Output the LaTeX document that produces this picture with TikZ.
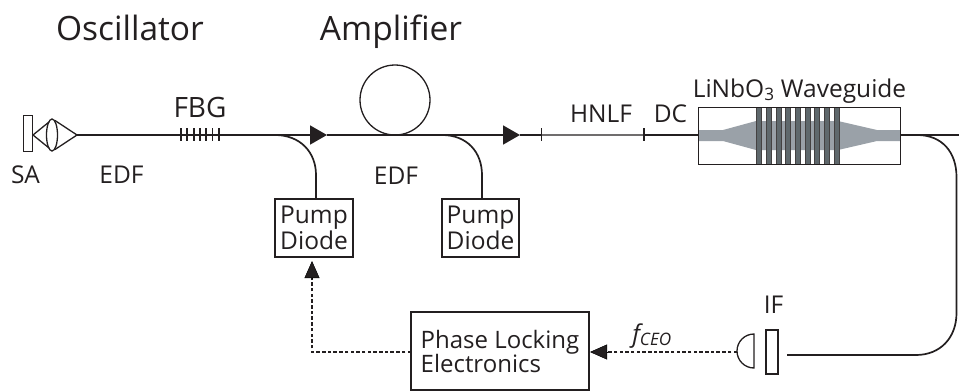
\documentclass[tikz,border=0pt]{standalone}
\usepackage{fontspec}
\setmainfont{Open Sans}
\usetikzlibrary{arrows.meta}
\definecolor{ink}{HTML}{231F20}
\definecolor{wg}{HTML}{9AA1A8}
\definecolor{electrode}{HTML}{5F686C}
\tikzset{
 x=1pt,y=-1pt,
 every node/.style={text=ink,inner sep=0pt,outer sep=0pt},
 lbl/.style={font=\fontsize{24.5}{24}\selectfont,anchor=base},
 biglbl/.style={font=\fontsize{33.5}{33}\selectfont,anchor=base},
 boxed/.style={draw=ink,line width=1.3pt,font=\fontsize{24.5}{24}\selectfont,align=center},
 fiber/.style={draw=ink,line width=1.7pt},
 part/.style={draw=ink,line width=1.3pt},
 thinfiber/.style={draw=ink!65,line width=1.3pt},
 dashline/.style={draw=ink,line width=1.6pt,dash pattern=on 3.5pt off 2.2pt},
 head/.style={-{Triangle[length=17pt,width=19pt,fill=ink]}},
 dashhead/.style={-{Triangle[length=17pt,width=15pt,fill=ink]}},
 elec/.style={fill=electrode,draw=ink!85,line width=0.7pt},
}
\begin{document}
\begin{tikzpicture}
\useasboundingbox (0,0) rectangle (959,391);
% titles
\node[biglbl] (osc) at (130,40) {Oscillator};
\node[biglbl] (amp) at (391,40) {Amplifier};
% saturable absorber and lens
\node[part,minimum width=9.5pt,minimum height=36pt] (sa) at (28,133.5) {};
\coordinate (lenstip) at (77,135);
\draw[part] (33,135) -- (49,122) (33,135) -- (49,148);
\draw[part] (55,120.5) -- (lenstip) -- (55,149.5);
\draw[part] (52,135) ellipse (5.5 and 16);
% fibres
\coordinate (head1) at (327,135);
\coordinate (head2) at (520,135);
\coordinate (spliceA) at (541.5,135);
\coordinate (spliceB) at (644,135);
\node[minimum width=202pt,minimum height=57pt] (wgbox) at (799,135) {};
\draw[fiber,head] (lenstip) -- (head1);
\draw[fiber,head] (head1) -- (head2);
\draw[fiber] (head2) -- (spliceA);
\draw[thinfiber] (spliceA) -- (spliceB);
\draw[fiber] (spliceB) -- (wgbox.west);
\coordinate (rightend) at (959,135);
\draw[fiber] (wgbox.east) -- (rightend);
% FBG
\foreach \i in {0,...,6}{
 \draw[draw=ink,line width=1.8pt] (181+6.3*\i,128) -- (181+6.3*\i,141);
}
% splice ticks
\draw[draw=ink,line width=1.1pt] (spliceA)+(0,-7) -- +(0,6);
\draw[draw=ink,line width=1.1pt] (spliceB)+(0,-7) -- +(0,6);
% loop
\node[part,circle,minimum size=70pt] (loop) at (395,100) {};
% pump diodes
\node[boxed,minimum width=78pt,minimum height=58pt] (pump1) at (314,228) {Pump\\Diode};
\node[boxed,minimum width=77pt,minimum height=58pt] (pump2) at (480.5,228) {Pump\\Diode};
\coordinate (tap1) at (275,135);
\coordinate (tap2) at (442,135);
\draw[fiber] (tap1) .. controls (300,135) and (316,152) .. (316,175) -- (316,199);
\draw[fiber] (tap2) .. controls (467,135) and (482,152) .. (482,175) -- (482,199);
% waveguide
\fill[wg] (698,130) -- (723,130) -- (756,121) -- (838,121) -- (877,130) -- (900,130) -- (900,141) -- (877,141) -- (838,150) -- (756,150) -- (723,141) -- (698,141) -- cycle;
\foreach \i in {0,...,8}{
 \filldraw[elec] (756.5+9.7*\i,107) rectangle (761.5+9.7*\i,164);
}
\draw[part,line width=0.9pt] (698,107) rectangle (900,164);
% output fibre
\coordinate (iffibre) at (787,355);
\draw[fiber] (917,135) .. controls (942,135) and (956.5,152) .. (956.5,177) -- (956.5,313) .. controls (956.5,338) and (940,355) .. (916,355) -- (iffibre);
% detector and filter
\node[part,minimum width=12pt,minimum height=44pt] (if) at (772,352) {};
\draw[part] (754,334) arc (270:90:17) -- cycle;
\coordinate (det) at (737,352);
% electronics
\node[boxed,minimum width=178pt,minimum height=78pt,align=left,font=\fontsize{24}{24}\selectfont] (ple) at (500,351) {Phase Locking\\Electronics};
\coordinate (pletip) at (590,352);
\draw[dashline] (det) -- (606,352);
\draw[dashhead] (607,352) -- (pletip);
\coordinate (corner) at (312,352);
\coordinate (dbase) at (312,278);
\draw[dashline] (ple.west |- corner) -- (corner) -- (dbase);
\draw[dashhead] (dbase) -- (312,261);
% labels
\node[lbl,font=\fontsize{28}{28}\selectfont] (fbg) at (200,117) {FBG};
\node[lbl] (salbl) at (25.5,183) {SA};
\node[lbl] (edf1) at (121.5,183) {EDF};
\node[lbl] (edf2) at (396,184) {EDF};
\node[lbl] (hnlf) at (601,122) {HNLF};
\node[lbl] (dc) at (670.5,122) {DC};
\node[lbl] (linbo) at (799.5,97) {LiNbO\textsubscript{3} Waveguide};
\node[lbl] (iflbl) at (773.5,313) {IF};
\node[lbl] (fceo) at (652,342) {\itshape f\textsubscript{CEO}};
\end{tikzpicture}
\end{document}
